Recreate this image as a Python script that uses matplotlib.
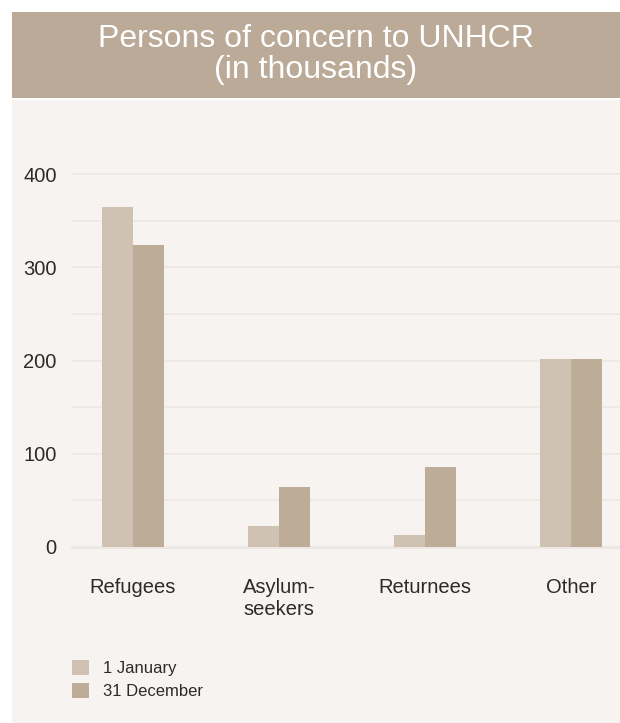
import matplotlib.pyplot as plt
from matplotlib.patches import Rectangle
import numpy as np

categories = ["Refugees", "Asylum-\nseekers", "Returnees", "Other"]
jan_1 = [365, 22, 13, 202]
dec_31 = [324, 64, 86, 202]
series_labels = ["1 January", "31 December"]
y_ticks = [0, 100, 200, 300, 400]

light = "#d0c2b2"
dark = "#bcac98"
band = "#bbaa97"
panel = "#f6f3f0"
grid = "#ede8e3"
text_col = "#2b2b2b"

plt.rcParams['font.family'] = ['Liberation Sans', 'DejaVu Sans']

fig = plt.figure(figsize=(6.2, 7.23), dpi=100)
fig.patch.set_facecolor("white")

# title band and light panel behind the chart
fig.add_artist(Rectangle((12 / 620, 1 - 98 / 723), 608 / 620, 86 / 723,
                         transform=fig.transFigure, color=band, lw=0, zorder=0))
fig.add_artist(Rectangle((12 / 620, 0), 608 / 620, 1 - 100 / 723,
                         transform=fig.transFigure, color=panel, lw=0, zorder=0))
fig.text(0.5 + 6 / 620, 1 - 39 / 723, "Persons of concern to UNHCR",
         ha="center", va="center", color="white", fontsize=23)
fig.text(0.5 + 6 / 620, 1 - 70 / 723, "(in thousands)",
         ha="center", va="center", color="white", fontsize=23)

# axes: x index 0 at 133px, spacing 146px; y 0 at 547px, 400 at 174px
x0, step = 133, 146
left_px, right_px = 72, 620
ax = fig.add_axes([left_px / 620, 1 - 547 / 723,
                   (right_px - left_px) / 620, 373 / 723])
ax.set_facecolor("none")
ax.set_xlim((left_px - x0) / step, (right_px - x0) / step)
ax.set_ylim(0, 400)

x = np.arange(len(categories))
w = 31 / step
ax.bar(x - w / 2, jan_1, width=w, color=light, label=series_labels[0], zorder=3)
ax.bar(x + w / 2, dec_31, width=w, color=dark, label=series_labels[1], zorder=3)

for v in range(0, 401, 50):
    ax.axhline(v, color=grid, lw=2.2 if v == 0 else 1.2, zorder=1, clip_on=False)

for s in ax.spines.values():
    s.set_visible(False)
ax.set_yticks(y_ticks)
ax.set_yticklabels([str(t) for t in y_ticks], fontsize=14.5, color=text_col)
ax.tick_params(axis="y", length=0, pad=11)
ax.set_xticks(x)
ax.set_xticklabels(categories, fontsize=14.5, color=text_col, linespacing=1.2)
ax.tick_params(axis="x", length=0, pad=22)
for lbl in ax.get_xticklabels():
    lbl.set_verticalalignment("top")

ax.legend(loc="upper left", bbox_to_anchor=(0, -113 / 373),
          bbox_transform=ax.transAxes, frameon=False, fontsize=12,
          handlelength=1.0, handleheight=1.0, handletextpad=0.85,
          labelspacing=0.4, borderaxespad=0, borderpad=0, labelcolor=text_col)

fig.savefig("out.png", dpi=100)
